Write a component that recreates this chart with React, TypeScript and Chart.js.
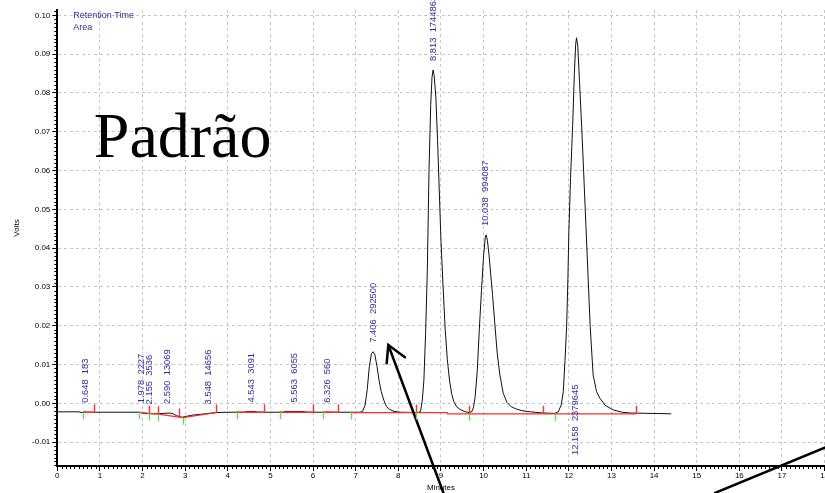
import React, { useEffect, useRef } from 'react';
import { Chart, registerables } from 'chart.js';

Chart.register(...registerables);

// ---- Chromatogram trace (minutes, volts) ----
const traceTimes = [
  0.0, 0.5, 0.58, 0.64, 0.72, 1.0, 1.9, 2.05, 2.2, 2.35, 2.5, 2.62, 2.72, 2.8, 2.92, 3.05, 3.2, 3.4, 3.55, 3.72,
  4.0, 4.4, 4.45, 4.65, 4.7, 5.3, 5.33, 5.8, 5.84, 6.3, 6.33, 6.4, 7.1, 7.16, 7.22, 7.27, 7.32, 7.37, 7.41, 7.45,
  7.5, 7.55, 7.6, 7.66, 7.72, 7.8, 7.9, 8.05, 8.45, 8.52, 8.56, 8.6, 8.64, 8.68, 8.72, 8.76, 8.79, 8.815, 8.84, 8.88,
  8.92, 8.96, 9.0, 9.05, 9.1, 9.15, 9.2, 9.25, 9.3, 9.37, 9.45, 9.55, 9.66, 9.72, 9.76, 9.8, 9.85, 9.9, 9.95, 10.0,
  10.04, 10.06, 10.09, 10.13, 10.17, 10.21, 10.26, 10.32, 10.38, 10.46, 10.55, 10.65, 10.75, 10.9, 11.1, 11.4, 11.67, 11.75, 11.82, 11.87,
  11.91, 11.95, 11.98, 12.0, 12.04, 12.09, 12.13, 12.16, 12.18, 12.21, 12.25, 12.3, 12.35, 12.4, 12.45, 12.5, 12.57, 12.65, 12.73, 12.85,
  13.04, 13.25, 13.45, 14.39,
];
const traceVolts = [
  -0.0022, -0.0022, -0.0024, -0.0022, -0.0023, -0.0023, -0.0023, -0.0026, -0.0027, -0.0027, -0.0026, -0.0025, -0.0027, -0.0032, -0.0036, -0.0033, -0.003, -0.0028, -0.0026, -0.0024,
  -0.0023, -0.0023, -0.0021, -0.0021, -0.0023, -0.0023, -0.0021, -0.0021, -0.0023, -0.0023, -0.0022, -0.0023, -0.0023, -0.0021, -0.0005, 0.0035, 0.0095, 0.0128, 0.0133, 0.0125,
  0.0095, 0.0058, 0.003, 0.0008, -0.0008, -0.0016, -0.0021, -0.0023, -0.0024, -0.0021, 0.0005, 0.006, 0.018, 0.034, 0.06, 0.077, 0.084, 0.0859, 0.0845, 0.079,
  0.068, 0.055, 0.042, 0.03, 0.019, 0.0112, 0.006, 0.0025, 0.0005, -0.0009, -0.0016, -0.0021, -0.0024, -0.0022, -0.0012, 0.0015, 0.008, 0.019, 0.029, 0.038,
  0.0428, 0.0434, 0.042, 0.038, 0.033, 0.028, 0.021, 0.0129, 0.0075, 0.0026, 0.0002, -0.0009, -0.0014, -0.0019, -0.0022, -0.0025, -0.0026, -0.0022, -0.0005, 0.003,
  0.011, 0.0202, 0.033, 0.044, 0.058, 0.0717, 0.085, 0.0925, 0.0942, 0.092, 0.083, 0.0717, 0.059, 0.046, 0.033, 0.02, 0.0073, 0.003, 0.0013, -0.0005,
  -0.0017, -0.0023, -0.0025, -0.0027,
];

// ---- Integration baselines (red): start time, start volts, end time, end volts ----
const baseStartT = [0.61, 1.92, 2.15, 2.37, 2.94, 4.21, 5.22, 6.24, 6.88, 9.15];
const baseStartV = [-0.0023, -0.0023, -0.0026, -0.0028, -0.0037, -0.0023, -0.0023, -0.0023, -0.0024, -0.0027];
const baseEndT = [0.87, 2.15, 2.37, 2.94, 3.72, 4.86, 6.0, 6.58, 9.15, 13.57];
const baseEndV = [-0.0023, -0.0026, -0.0028, -0.0037, -0.0024, -0.0023, -0.0023, -0.0023, -0.0024, -0.0027];

// ---- Integration event markers ----
const redEventTimes = [0.87, 2.15, 2.37, 2.85, 3.72, 4.86, 6.0, 6.58, 8.41, 9.66, 11.39, 13.57];
const redEventVolts = [-0.0023, -0.0026, -0.0028, -0.0034, -0.0024, -0.0023, -0.0023, -0.0023, -0.0024, -0.0027, -0.0027, -0.0027];
const greenEventTimes = [0.61, 1.92, 2.15, 2.37, 2.94, 4.21, 5.22, 6.24, 6.88, 8.41, 9.66, 11.67];
const greenEventVolts = [-0.0023, -0.0023, -0.0026, -0.0028, -0.0037, -0.0023, -0.0023, -0.0023, -0.0024, -0.0024, -0.0027, -0.0027];

// ---- Peak annotations ----
const peakTimes = [0.648, 1.978, 2.155, 2.59, 3.548, 4.543, 5.563, 6.326, 7.406, 8.813, 10.038, 12.158];
const peakTimeLabels = ['0.648', '1.978', '2.155', '2.590', '3.548', '4.543', '5.563', '6.326', '7.406', '8.813', '10.038', '12.158'];
const peakAreas = ['183', '2227', '3536', '13069', '14656', '3091', '6055', '560', '292500', '1744863', '994087', '2379645'];
const peakLabelBelow = [false, false, false, false, false, false, false, false, false, false, false, true];

// ---- Hand-drawn annotation lines (minutes, volts) ----
const arrowShaftT = [7.765, 9.055];
const arrowShaftV = [0.01503, -0.023];
const arrowHeadT = [7.727, 7.765, 8.156];
const arrowHeadV = [0.0103, 0.01503, 0.01186];
const strokeT = [15.43, 18.5];
const strokeV = [-0.0231, -0.00917];

// ---- Axes ----
const xMin = 0;
const xMax = 18;
const yMin = -0.01616;
const yMax = 0.10137;

const SANS = '"Liberation Sans", Arial, sans-serif';
const BLUE = '#2e2ea2';

const pts = (ts: number[], vs: number[]) => ts.map((t, i) => ({ x: t, y: vs[i] }));

function interp(t: number) {
  for (let i = 1; i < traceTimes.length; i++) {
    if (traceTimes[i] >= t) {
      const t0 = traceTimes[i - 1], t1 = traceTimes[i];
      const f = (t - t0) / (t1 - t0);
      return traceVolts[i - 1] + f * (traceVolts[i] - traceVolts[i - 1]);
    }
  }
  return traceVolts[traceVolts.length - 1];
}
function apexNear(t: number) {
  let m = interp(t);
  traceTimes.forEach((tt, i) => {
    if (Math.abs(tt - t) <= 0.12 && traceVolts[i] > m) m = traceVolts[i];
  });
  return m;
}

const overlayPlugin = {
  id: 'overlay',
  afterDatasetsDraw(chart: any) {
    const { ctx, chartArea, scales } = chart;
    const x = scales.x, y = scales.y;
    ctx.save();
    // minor ticks
    ctx.strokeStyle = '#000';
    ctx.lineWidth = 1;
    ctx.beginPath();
    for (let k = Math.round(xMin * 10); k <= Math.round(xMax * 10); k++) {
      if (k % 10 === 0) continue;
      const px = Math.round(x.getPixelForValue(k / 10)) + 0.5;
      ctx.moveTo(px, chartArea.bottom);
      ctx.lineTo(px, chartArea.bottom + 3);
    }
    for (let k = Math.ceil(yMin * 1000); k <= Math.floor(yMax * 1000); k++) {
      if (k % 10 === 0) continue;
      const py = Math.round(y.getPixelForValue(k / 1000)) + 0.5;
      ctx.moveTo(chartArea.left - 3, py);
      ctx.lineTo(chartArea.left, py);
    }
    ctx.stroke();

    // event markers
    ctx.lineWidth = 1.4;
    ctx.strokeStyle = '#ff3030';
    ctx.beginPath();
    redEventTimes.forEach((t, i) => {
      const px = Math.round(x.getPixelForValue(t)) + 0.5;
      const py = y.getPixelForValue(redEventVolts[i]);
      ctx.moveTo(px, py);
      ctx.lineTo(px, py - 8);
    });
    ctx.stroke();
    ctx.strokeStyle = '#44ee44';
    ctx.beginPath();
    greenEventTimes.forEach((t, i) => {
      const px = Math.round(x.getPixelForValue(t)) + 0.5;
      const py = y.getPixelForValue(greenEventVolts[i]);
      ctx.moveTo(px, py);
      ctx.lineTo(px, py + 7);
    });
    ctx.stroke();

    // peak labels
    ctx.fillStyle = BLUE;
    ctx.font = '9.4px ' + SANS;
    ctx.textAlign = 'left';
    ctx.textBaseline = 'middle';
    peakTimes.forEach((t, i) => {
      const px = x.getPixelForValue(t);
      const py = peakLabelBelow[i] ? chartArea.bottom - 11 : y.getPixelForValue(apexNear(t)) - 9;
      ctx.save();
      ctx.translate(px, py);
      ctx.rotate(-Math.PI / 2);
      ctx.fillText(peakTimeLabels[i] + '  ' + peakAreas[i], 0, 0);
      ctx.restore();
    });

    // legend text
    ctx.font = '9px ' + SANS;
    ctx.fillText('Retention Time', chartArea.left + 16, chartArea.top + 6);
    ctx.fillText('Area', chartArea.left + 16, chartArea.top + 17.5);

    // big title
    ctx.fillStyle = '#000';
    ctx.font = '64px "Liberation Serif", "Times New Roman", serif';
    ctx.textBaseline = 'alphabetic';
    ctx.fillText('Padrão', chartArea.left + 36.5, 157);

    // axis titles
    ctx.font = '8px ' + SANS;
    ctx.textAlign = 'center';
    ctx.textBaseline = 'middle';
    ctx.fillText('Minutes', (chartArea.left + chartArea.right) / 2, 488);
    ctx.save();
    ctx.translate(17, 228);
    ctx.rotate(-Math.PI / 2);
    ctx.fillText('Volts', 0, 0);
    ctx.restore();

    ctx.restore();
  },
};

export default function App() {
  const ref = useRef<HTMLCanvasElement | null>(null);
  useEffect(() => {
    if (!ref.current) return;
    const basePts: any[] = [];
    baseStartT.forEach((t, i) => {
      basePts.push({ x: t, y: baseStartV[i] });
      basePts.push({ x: baseEndT[i], y: baseEndV[i] });
      basePts.push({ x: baseEndT[i], y: null });
    });
    const gridColor = '#c6c6c6';
    const chart = new Chart(ref.current, {
      type: 'line',
      data: {
        datasets: [
          { data: pts(arrowShaftT, arrowShaftV), borderColor: '#000', borderWidth: 2.5, clip: false as any, order: 0 } as any,
          { data: pts(arrowHeadT, arrowHeadV), borderColor: '#000', borderWidth: 2.5, clip: false as any, order: 0 } as any,
          { data: pts(strokeT, strokeV), borderColor: '#000', borderWidth: 2.5, clip: false as any, order: 0 } as any,
          { data: basePts, borderColor: '#ff2a2a', borderWidth: 1.3, spanGaps: false, order: 1 } as any,
          { data: pts(traceTimes, traceVolts), borderColor: '#111', borderWidth: 1, order: 2 } as any,
        ],
      },
      options: {
        responsive: false,
        animation: false,
        devicePixelRatio: 1,
        layout: { padding: { top: 10, right: 15.4, left: 0, bottom: 0 } },
        elements: { point: { radius: 0 }, line: { tension: 0, borderCapStyle: 'round' } },
        plugins: { legend: { display: false }, tooltip: { enabled: false } },
        scales: {
          x: {
            type: 'linear',
            min: xMin,
            max: xMax,
            ticks: {
              stepSize: 1,
              autoSkip: false,
              maxRotation: 0,
              includeBounds: false,
              padding: 0,
              color: '#000',
              font: { size: 8, family: SANS },
              callback: (v: any) => String(Math.round(Number(v))),
            },
            grid: {
              color: (c: any) => (c.tick && c.tick.value === 0 ? 'rgba(0,0,0,0)' : gridColor),
              lineWidth: 1,
              tickColor: '#000',
              tickLength: 5,
              tickBorderDash: [],
            },
            border: { display: true, color: '#000', width: 2, dash: [3, 3] },
            afterFit: (s: any) => {
              s.height = 27;
              s.paddingLeft = 0;
              s.paddingRight = 0;
            },
          } as any,
          y: {
            type: 'linear',
            min: yMin,
            max: yMax,
            ticks: {
              stepSize: 0.01,
              includeBounds: false,
              padding: 2,
              color: '#000',
              font: { size: 8, family: SANS },
              callback: (v: any) => Number(v).toFixed(2),
            },
            grid: {
              color: gridColor,
              lineWidth: 1,
              tickColor: '#000',
              tickLength: 5,
              tickBorderDash: [],
            },
            border: { display: true, color: '#000', width: 2, dash: [3, 3] },
            afterFit: (s: any) => {
              s.width = 57.3;
              s.paddingTop = 0;
              s.paddingBottom = 0;
            },
          } as any,
        },
      },
      plugins: [overlayPlugin],
    } as any);
    return () => chart.destroy();
  }, []);
  return (
    <div style={{ position: 'absolute', left: 0, top: 0, width: 825, height: 493, overflow: 'hidden', background: '#fff' }}>
      <canvas ref={ref} width={840} height={493} style={{ display: 'block', width: 840, height: 493 }} />
    </div>
  );
}
